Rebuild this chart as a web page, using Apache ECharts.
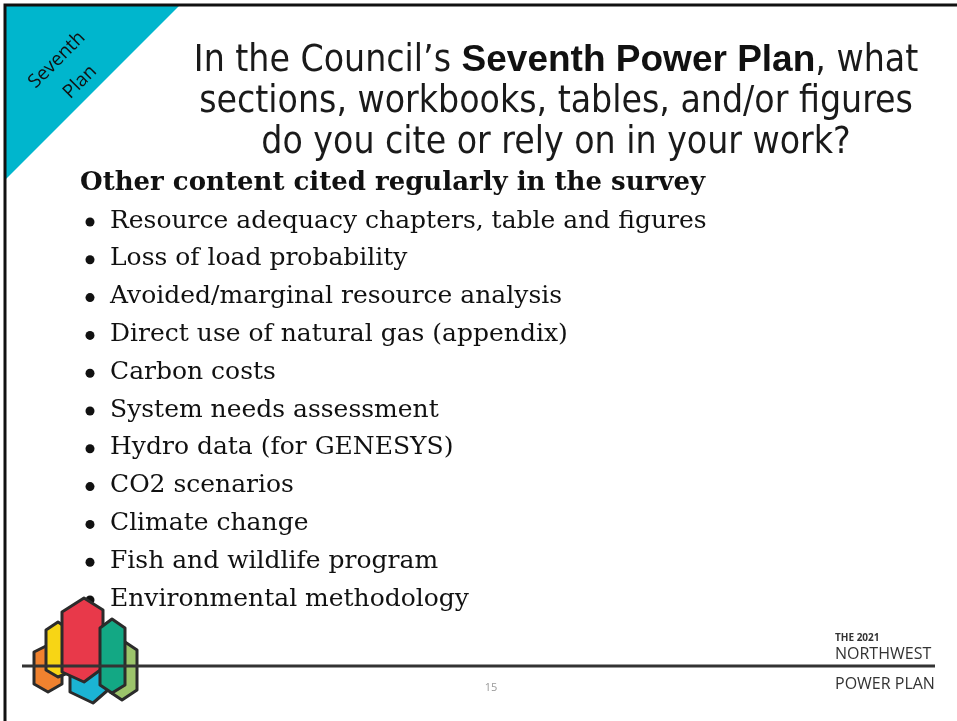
<!DOCTYPE html>
<html>
<head>
<meta charset="utf-8">
<script src="https://cdn.jsdelivr.net/npm/echarts@6/dist/echarts.min.js"></script>
<style>
  html, body { margin: 0; padding: 0; background: #fff; }
  #main { width: 957px; height: 721px; }
</style>
</head>
<body>
<div id="main"></div>
<script>
/* slide text */
var cornerLabel = ['Seventh', 'Plan'];
var titleLines = [
    '{n|In the Council\u2019s }{b|Seventh Power Plan}{n|, what}',
    '{n|sections, workbooks, tables, and/or figures}',
    '{n|do you cite or rely on in your work?}'
];
var heading = 'Other content cited regularly in the survey';
var items = [
    'Resource adequacy chapters, table and figures',
    'Loss of load probability',
    'Avoided/marginal resource analysis',
    'Direct use of natural gas (appendix)',
    'Carbon costs',
    'System needs assessment',
    'Hydro data (for GENESYS)',
    'CO2 scenarios',
    'Climate change',
    'Fish and wildlife program',
    'Environmental methodology'
];
var footer = ['THE 2021', 'NORTHWEST', 'POWER PLAN'];
var pageNo = '15';

var myChart = echarts.init(document.getElementById('main'));

var elements = [];

/* frame + corner tab */
elements.push({
    type: 'polygon',
    shape: { points: [[5, 5], [180, 5], [5, 180]] },
    style: { fill: '#00B6CD' }
});
elements.push({
    type: 'polyline',
    shape: { points: [[5, 721], [5, 5], [957, 5]] },
    style: { stroke: '#111', lineWidth: 3, fill: null }
});
var cornerPos = [[57, 60], [80, 82]];
cornerLabel.forEach(function (t, i) {
    elements.push({
        type: 'text',
        x: cornerPos[i][0],
        y: cornerPos[i][1],
        rotation: Math.PI / 4,
        style: {
            text: t,
            font: '19px "Open Sans"',
            fill: '#111',
            align: 'center',
            verticalAlign: 'middle'
        }
    });
});

/* title */
titleLines.forEach(function (t, i) {
    elements.push({
        type: 'text',
        x: 556,
        y: 61 + i * 41,
        style: {
            text: t,
            align: 'center',
            verticalAlign: 'middle',
            rich: {
                n: { font: '37px "Liberation Sans Narrow", "DejaVu Sans Condensed"', fill: '#1a1a1a' },
                b: { font: 'bold 37px "Liberation Sans"', fill: '#111' }
            }
        }
    });
});

/* heading + bullets */
elements.push({
    type: 'text',
    x: 80,
    y: 183,
    style: {
        text: heading,
        font: 'bold 26px "DejaVu Serif"',
        fill: '#111',
        verticalAlign: 'middle'
    }
});
items.forEach(function (t, i) {
    var y = 221 + i * 37.8;
    elements.push({
        type: 'circle',
        shape: { cx: 90, cy: y + 1, r: 4.5 },
        style: { fill: '#111' }
    });
    elements.push({
        type: 'text',
        x: 110,
        y: y,
        style: {
            text: t,
            font: '25px "DejaVu Serif"',
            fill: '#111',
            verticalAlign: 'middle'
        }
    });
});

/* logo */
var stroke = '#2b2b2b';
var logo = [
    ['#9CC46B', [[122, 640], [137, 650], [137, 690], [122, 700], [110, 692], [110, 650]]],
    ['#F0822F', [[48, 645], [62, 652], [62, 684], [48, 692], [34, 684], [34, 652]]],
    ['#F7D515', [[58, 622], [70, 630], [70, 672], [58, 677], [46, 670], [46, 630]]],
    ['#1BB4D4', [[90, 628], [108, 640], [108, 690], [93, 703], [70, 692], [70, 640]]],
    ['#E8394A', [[84, 598], [103, 610], [103, 668], [84, 682], [62, 672], [62, 612]]],
    ['#13A884', [[112, 619], [125, 628], [125, 685], [112, 693], [100, 685], [100, 628]]]
];
logo.forEach(function (p) {
    elements.push({
        type: 'polygon',
        shape: { points: p[1] },
        style: { fill: p[0], stroke: stroke, lineWidth: 3, lineJoin: 'round' }
    });
});

/* footer rule */
elements.push({
    type: 'line',
    shape: { x1: 22, y1: 666, x2: 935, y2: 666 },
    style: { stroke: '#333', lineWidth: 3 }
});

/* brand */
elements.push({
    type: 'text', x: 835, y: 638,
    style: { text: footer[0], font: 'bold 10px "Open Sans"', fill: '#333', verticalAlign: 'middle' }
});
elements.push({
    type: 'text', x: 835, y: 654,
    style: { text: footer[1], font: '16px "Open Sans"', fill: '#333', verticalAlign: 'middle' }
});
elements.push({
    type: 'text', x: 835, y: 684,
    style: { text: footer[2], font: '16px "Open Sans"', fill: '#333', verticalAlign: 'middle' }
});
elements.push({
    type: 'text', x: 491, y: 688,
    style: { text: pageNo, font: '11px "Open Sans"', fill: '#999', align: 'center', verticalAlign: 'middle' }
});

var options = {
    backgroundColor: '#fff',
    graphic: { elements: elements }
};
myChart.setOption(options);
</script>
</body>
</html>
